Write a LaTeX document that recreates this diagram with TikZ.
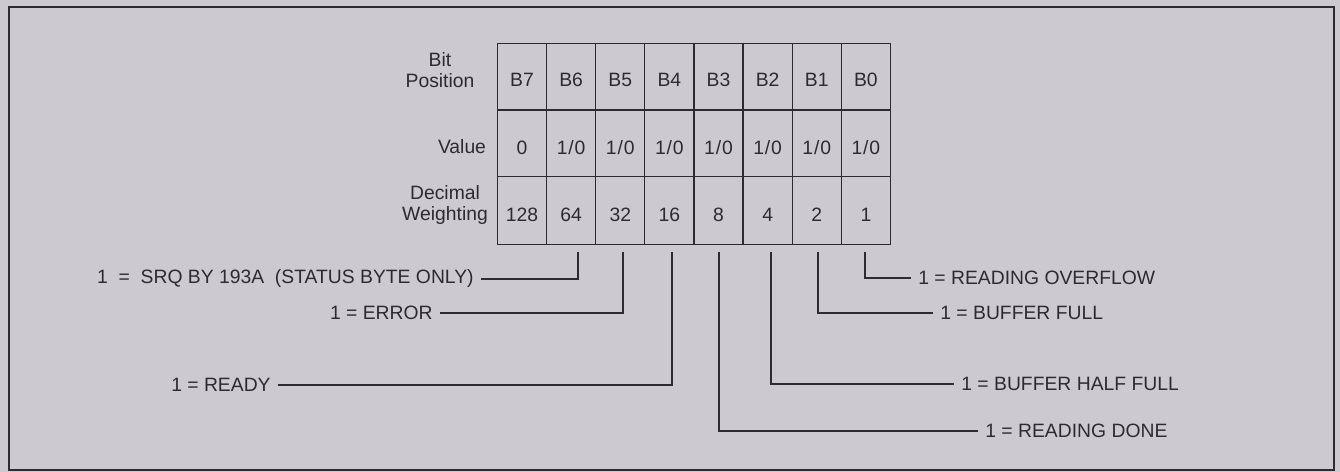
\documentclass[tikz,border=0pt]{standalone}
\usepackage{fontspec}
\setmainfont{Liberation Sans}
\definecolor{bg}{RGB}{204,202,208}
\definecolor{ink}{RGB}{45,43,48}
\newcommand\onezero{1\kern0.5pt/\kern0.5pt0}
\begin{document}
\begin{tikzpicture}[x=0.02cm,y=-0.02cm,
  txt/.style={font=\fontsize{11}{12.5}\selectfont, text=ink},
  cell/.style={draw=ink, line width=0.6pt, minimum width=0.98cm, minimum height=1.33cm, inner sep=0pt, anchor=north west},
  celltxt/.style={txt, anchor=base, inner sep=0pt},
  rowlbl/.style={txt, align=center, inner sep=0pt},
  lbl/.style={txt, inner sep=0pt, inner xsep=4pt},
  leader/.style={draw=ink, line width=1.3pt}]
\fill[bg] (0,0) rectangle (1340,472);
\useasboundingbox (0,0) rectangle (1340,472);
\draw[ink, line width=0.9pt] (9,7) rectangle (1334,470);
% grid cells
\foreach \i/\b/\v/\w [count=\k from 0] in {7/B7/0/128,6/B6/\onezero/64,5/B5/\onezero/32,4/B4/\onezero/16,3/B3/\onezero/8,2/B2/\onezero/4,1/B1/\onezero/2,0/B0/\onezero/1}{
  \node[cell] (p\i) at ({497+49.125*\k},43) {};
  \node[cell] (v\i) at ({497+49.125*\k},109.5) {};
  \node[cell, minimum height=1.36cm] (w\i) at ({497+49.125*\k},176) {};
  \node[celltxt, yshift=-0.2cm] (pt\i) at (p\i.center) {\b};
  \node[celltxt, yshift=-0.22cm] (vt\i) at (v\i.center) {\v};
  \node[celltxt, yshift=-0.22cm] (wt\i) at (w\i.center) {\w};
}
% row labels
\node[rowlbl, anchor=base] (rl1) at (440,88) {Bit\\Position};
\node[rowlbl, anchor=base] (rl2) at (462,154) {Value};
\node[rowlbl, anchor=base] (rl3) at (445,221) {Decimal\\Weighting};
% leader origins
\coordinate (t6) at (578,252);
\coordinate (t5) at (623,252);
\coordinate (t4) at (672,252);
\coordinate (t3) at (719,252);
\coordinate (t2) at (771,252);
\coordinate (t1) at (818,252);
\coordinate (t0) at (865,252);
% labels
\node[lbl, anchor=east] (l6) at (481,279) {1\ \ =\ \ SRQ BY 193A\ \ (STATUS BYTE ONLY)};
\node[lbl, anchor=east] (l5) at (440,313) {1 = ERROR};
\node[lbl, anchor=east] (l4) at (278,385) {1 = READY};
\node[lbl, anchor=west] (l0) at (911,278) {1 = READING OVERFLOW};
\node[lbl, anchor=west] (l1) at (933,313) {1 = BUFFER FULL};
\node[lbl, anchor=west] (l2) at (954,384) {1 = BUFFER HALF FULL};
\node[lbl, anchor=west] (l3) at (978,431) {1 = READING DONE};
% leaders
\draw[leader] (t6) |- (l6.east);
\draw[leader] (t5) |- (l5.east);
\draw[leader] (t4) |- (l4.east);
\draw[leader] (t3) |- (l3.west);
\draw[leader] (t2) |- (l2.west);
\draw[leader] (t1) |- (l1.west);
\draw[leader] (t0) |- (l0.west);
\end{tikzpicture}
\end{document}
